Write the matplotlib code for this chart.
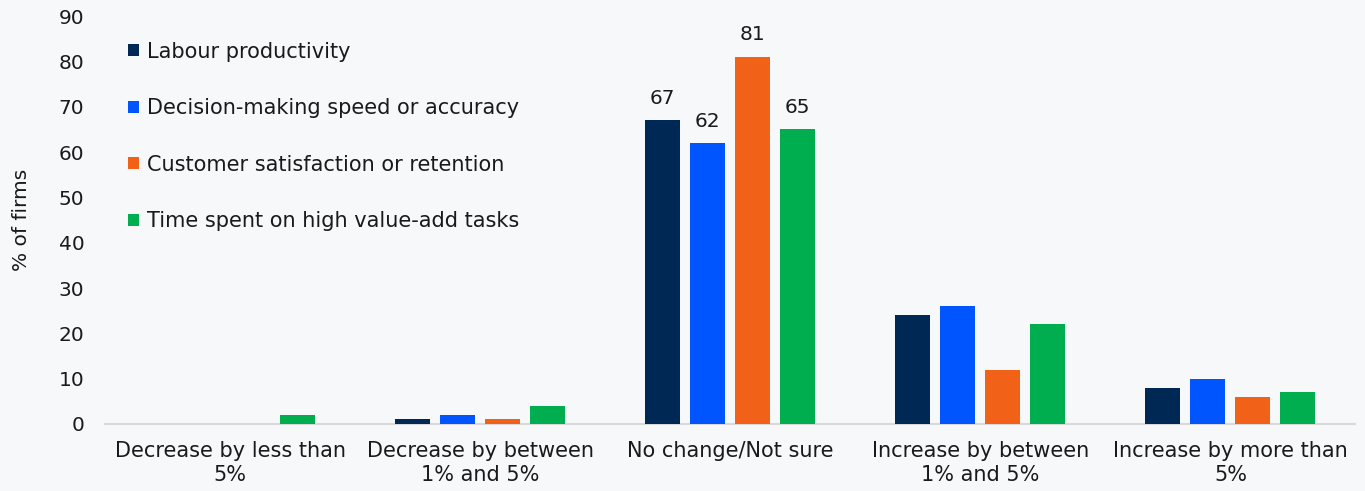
import numpy as np
import matplotlib.pyplot as plt

categories = ["Decrease by less than\n5%", "Decrease by between\n1% and 5%",
              "No change/Not sure", "Increase by between\n1% and 5%",
              "Increase by more than\n5%"]
series = ["Labour productivity", "Decision-making speed or accuracy",
          "Customer satisfaction or retention", "Time spent on high value-add tasks"]
labour = [0, 1, 67, 24, 8]
decision = [0, 2, 62, 26, 10]
customer = [0, 1, 81, 12, 6]
time_spent = [2, 4, 65, 22, 7]
values = [labour, decision, customer, time_spent]
colors = ["#002855", "#0055FF", "#F26118", "#00AE50"]
labelled = 2  # only the middle group carries value labels

plt.rcParams['font.family'] = ['DejaVu Sans']
bg = "#F7F8FA"
txt = "#1a1a1a"
fig = plt.figure(figsize=(13.65, 4.91), dpi=100, facecolor=bg)
ax = fig.add_axes([0.077, 0.1365, 0.916, 0.8305], facecolor=bg)

x = np.arange(len(categories))
w = 0.14
step = 0.18
for i, (vals, col, name) in enumerate(zip(values, colors, series)):
    pos = x + (i - 1.5) * step
    bars = ax.bar(pos, vals, width=w, color=col, label=name, zorder=3)
    b = bars[labelled]
    ax.annotate(f"{vals[labelled]}", (b.get_x() + b.get_width() / 2, b.get_height()),
                xytext=(0, 9), textcoords="offset points", ha="center", va="bottom",
                fontsize=14.5, color=txt)

ax.set_xlim(-0.5, len(categories) - 0.5)
ax.set_ylim(0, 90)
ax.set_yticks(range(0, 91, 10))
ax.set_xticks(x)
ax.set_xticklabels(categories, fontsize=15, color=txt, linespacing=1.25)
ax.tick_params(axis="y", length=0, labelsize=14.5, labelcolor=txt, pad=15)
ax.tick_params(axis="x", length=0, pad=12)
for s in ["top", "right", "left"]:
    ax.spines[s].set_visible(False)
ax.spines["bottom"].set_color("#D9D9D9")
ax.spines["bottom"].set_linewidth(1.5)
ax.set_ylabel("% of firms", fontsize=14.5, color=txt, labelpad=20)

leg = ax.legend(loc="upper left", bbox_to_anchor=(0.012, 0.958), frameon=False,
                fontsize=15, handlelength=0.52, handleheight=0.52, handletextpad=0.35,
                labelspacing=1.75, borderaxespad=0)
for t in leg.get_texts():
    t.set_color(txt)

fig.savefig("out.png", dpi=100, facecolor=bg)
